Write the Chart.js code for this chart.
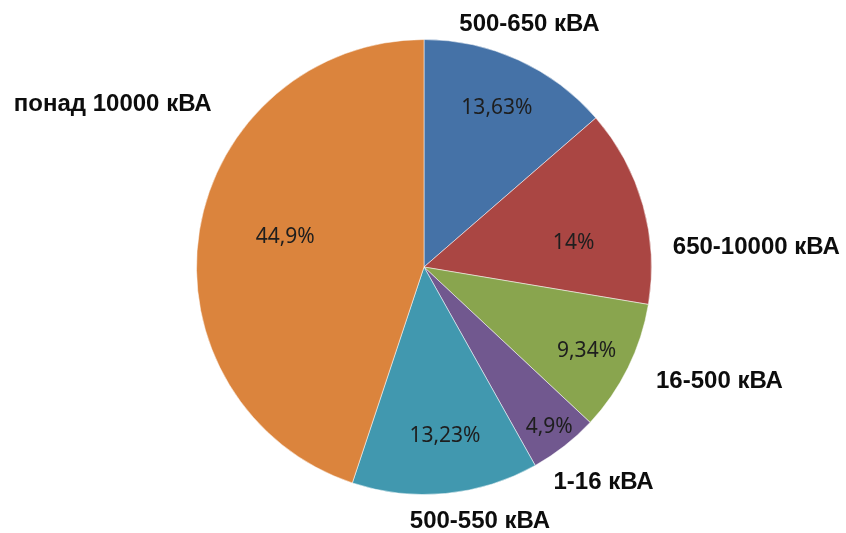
<!DOCTYPE html>
<html>
<head>
<meta charset="utf-8">
<script src="https://cdn.jsdelivr.net/npm/chart.js@4"></script>
<style>
    html, body { margin: 0; padding: 0; background: #fff; }
    #wrap { width: 846px; height: 533px; }
</style>
</head>
<body>
<div id="wrap"><canvas id="pieChart" width="846" height="533"></canvas></div>
<script>
// Datos del gráfico
const categories = ['500-650 кВА', '650-10000 кВА', '16-500 кВА', '1-16 кВА', '500-550 кВА', 'понад 10000 кВА'];
const shares = [13.63, 14, 9.34, 4.9, 13.23, 44.9];
const shareLabels = ['13,63%', '14%', '9,34%', '4,9%', '13,23%', '44,9%'];
const sliceColors = ['#4572A7', '#AA4643', '#89A54E', '#71588F', '#4198AF', '#DB843D'];

// Posición de etiquetas (ángulo en grados, fracción del radio)
const innerPlace = [[-65.4, 0.77], [-9.1, 0.666], [27.3, 0.804], [51.9, 0.892], [82.9, 0.747], [192.2, 0.624]];
const outerPlace = [[-66.5, 1.162], [-3.3, 1.463], [21.2, 1.393], [50.2, 1.233], [77.6, 1.145], [207.6, 1.544]];

/**
 * Dibuja las etiquetas de porcentaje y de categoría
 */
const labelPlugin = {
    id: 'sliceLabels',
    afterDatasetsDraw(chart) {
        const ctx = chart.ctx;
        const arc = chart.getDatasetMeta(0).data[0];
        const cx = arc.x, cy = arc.y, r = arc.outerRadius;
        ctx.save();
        ctx.textAlign = 'center';
        ctx.textBaseline = 'middle';

        ctx.font = '21px "Noto Sans"';
        ctx.fillStyle = '#1e1e1e';
        shareLabels.forEach((txt, i) => {
            const a = innerPlace[i][0] * Math.PI / 180;
            const d = innerPlace[i][1] * r;
            ctx.fillText(txt, cx + Math.cos(a) * d, cy + Math.sin(a) * d);
        });

        ctx.font = 'bold 24px "Liberation Sans", Arial';
        ctx.fillStyle = '#0d0d0d';
        categories.forEach((txt, i) => {
            const a = outerPlace[i][0] * Math.PI / 180;
            const d = outerPlace[i][1] * r;
            ctx.fillText(txt, cx + Math.cos(a) * d, cy + Math.sin(a) * d);
        });
        ctx.restore();
    }
};

new Chart(document.getElementById('pieChart'), {
    type: 'pie',
    data: {
        labels: categories,
        datasets: [{
            data: shares,
            backgroundColor: sliceColors,
            borderColor: 'rgba(255,255,255,0.5)',
            borderWidth: 1
        }]
    },
    options: {
        responsive: false,
        animation: false,
        layout: {
            padding: { top: 39, bottom: 38, left: 196, right: 194 }
        },
        plugins: {
            legend: { display: false },
            tooltip: { enabled: false }
        }
    },
    plugins: [labelPlugin]
});
</script>
</body>
</html>
